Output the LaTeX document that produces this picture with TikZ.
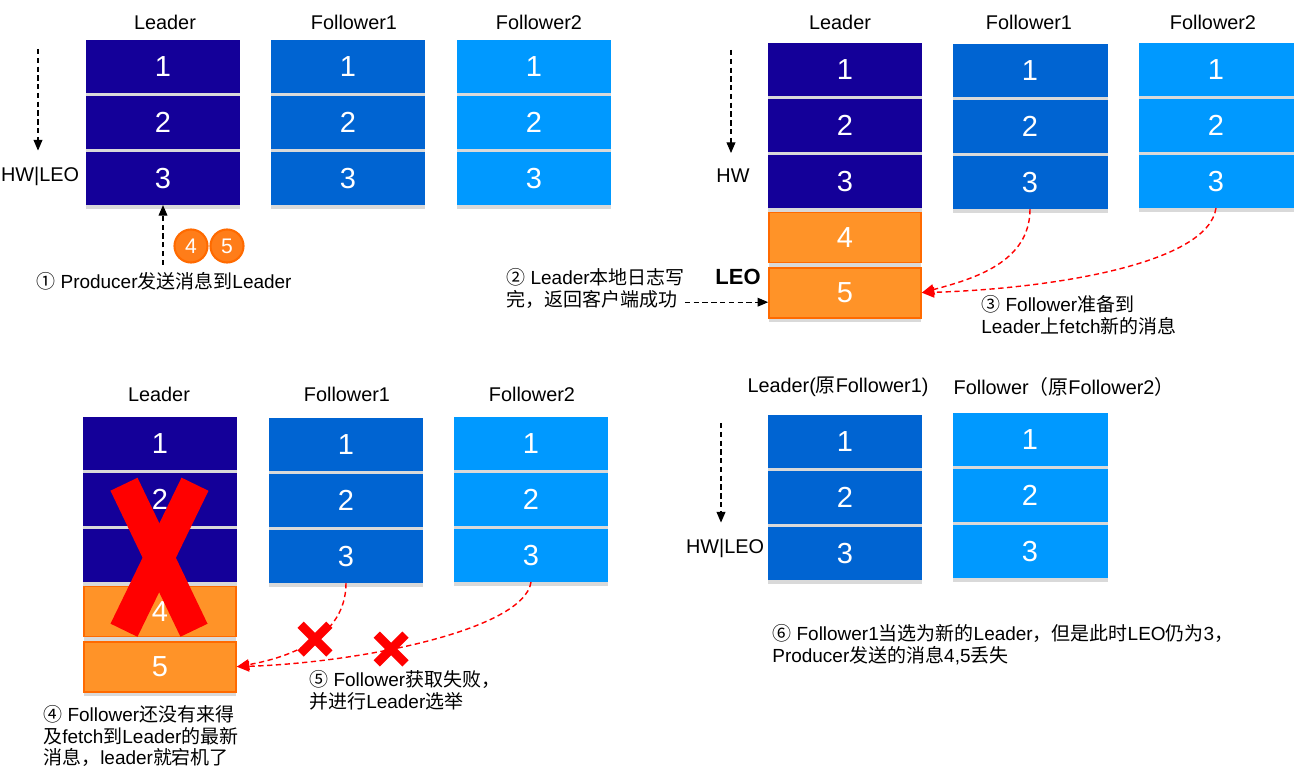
\documentclass[tikz,border=0pt]{standalone}
\usepackage{fontspec}
\setmainfont{Liberation Sans}
\newfontfamily\cjkfont{Noto Sans CJK SC}
\newcommand\zh[1]{{\cjkfont #1}}
\usepackage{tikz}
\usetikzlibrary{arrows.meta, positioning, shadows, shapes.misc}
\definecolor{ldrblue}{RGB}{20,0,153}
\definecolor{fonblue}{RGB}{0,100,210}
\definecolor{ftwblue}{RGB}{0,153,255}
\definecolor{msgorange}{RGB}{255,147,40}
\definecolor{msgedge}{RGB}{255,106,0}
\definecolor{ballorange}{RGB}{255,125,25}
\definecolor{xred}{RGB}{255,0,0}

\begin{document}
\begin{tikzpicture}[x=0.02cm, y=-0.02cm,
    node distance=0.04cm,
    every node/.style={font=\fontsize{10.8}{12.4}\selectfont},
    blk/.style={rectangle, minimum width=3.1cm, minimum height=1.06cm,
                inner sep=0pt, text=white, font=\fontsize{16.5}{18}\selectfont,
                drop shadow={shadow xshift=0pt, shadow yshift=-2.5pt, opacity=0.3}},
    ldr/.style={blk, fill=ldrblue},
    fone/.style={blk, fill=fonblue},
    ftwo/.style={blk, fill=ftwblue},
    msg/.style={blk, fill=msgorange, draw=msgedge, line width=1pt,
                minimum width=3.04cm, minimum height=1.0cm},
    hdr/.style={inner sep=0pt, font=\fontsize{11.3}{13}\selectfont},
    note/.style={inner sep=0pt, align=left, anchor=north west},
    ptr/.style={-{Triangle[length=6pt, width=5pt]}, dash pattern=on 3pt off 2pt, line width=0.6pt},
    fetch/.style={-{Triangle[length=7pt, width=6pt]}, xred, dash pattern=on 3pt off 2pt, line width=0.8pt},
    ball/.style={circle, fill=ballorange, draw=msgedge, line width=1.2pt, minimum size=0.66cm,
                 inner sep=0pt, text=white, font=\fontsize{12}{14}\selectfont},
    xmark/.style={cross out, draw=xred, solid, line width=5pt, minimum size=0.4cm, inner sep=0pt},
    bigx/.style={draw=xred, line width=0.6cm},
  ]
  \useasboundingbox (0,0) rectangle (1301,780);

  % Paso 1: Producer -> Leader
  \node[hdr] (ah1) at (165,22) {Leader};
  \node[hdr] (ah2) at (354,22) {Follower1};
  \node[hdr] (ah3) at (539,22) {Follower2};
  \node[ldr, anchor=north] (al1) at (163,40) {1};
  \node[ldr, below=of al1] (al2) {2};
  \node[ldr, below=of al2] (al3) {3};
  \node[fone, anchor=north] (af1) at (348,40) {1};
  \node[fone, below=of af1] (af2) {2};
  \node[fone, below=of af2] (af3) {3};
  \node[ftwo, anchor=north] (ag1) at (534,40) {1};
  \node[ftwo, below=of ag1] (ag2) {2};
  \node[ftwo, below=of ag2] (ag3) {3};
  \node[hdr] (ahw) at (40,176) {HW|LEO};
  \coordinate (as) at (38,49);
  \draw[ptr] (as) -- ([yshift=9pt]ahw.north -| as);
  \node[ball] (m4) at (191,246) {4};
  \node[ball] (m5) at (227,246) {5};
  \node[note] (t1) at (36,272) {\zh{①} Producer\zh{发送消息到}Leader};
  \draw[ptr] ([yshift=4pt]t1.north -| al3) -- (al3.south);

  % Paso 2 y 3: Leader escribe, Followers hacen fetch
  \node[hdr] (bh1) at (840,22) {Leader};
  \node[hdr] (bh2) at (1029,22) {Follower1};
  \node[hdr] (bh3) at (1213,22) {Follower2};
  \node[ldr, anchor=north] (bl1) at (845,43) {1};
  \node[ldr, below=of bl1] (bl2) {2};
  \node[ldr, below=of bl2] (bl3) {3};
  \node[msg, below=0.07cm of bl3] (bl4) {4};
  \node[msg, below=0.07cm of bl4] (bl5) {5};
  \node[fone, anchor=north] (bf1) at (1030,44) {1};
  \node[fone, below=of bf1] (bf2) {2};
  \node[fone, below=of bf2] (bf3) {3};
  \node[ftwo, anchor=north] (bg1) at (1216,43) {1};
  \node[ftwo, below=of bg1] (bg2) {2};
  \node[ftwo, below=of bg2] (bg3) {3};
  \node[hdr] (bhw) at (733,176) {HW};
  \coordinate (bs) at (731,50);
  \draw[ptr] (bs) -- ([yshift=9pt]bhw.north -| bs);
  \node[hdr, font=\fontsize{12.5}{14}\selectfont\bfseries] (bleo) at (738,277) {LEO};
  \node[note] (t2) at (506,268) {\zh{②} Leader\zh{本地日志写}\\\zh{完，返回客户端成功}};
  \draw[ptr] ([yshift=-0.19cm]bl5.west -| t2.east) -- ([yshift=-0.19cm]bl5.west);
  \draw[fetch] (bf3.south) to[out=-90, in=15] (bl5.east);
  \draw[fetch] (bg3.south) .. controls +(-8,56) and +(129,-4) .. (bl5.east);
  \node[note] (t3) at (981,295) {\zh{③} Follower\zh{准备到}\\Leader\zh{上}fetch\zh{新的消息}};

  % Paso 4 y 5: Leader cae
  \node[hdr] (ch1) at (159,394) {Leader};
  \node[hdr] (ch2) at (347,394) {Follower1};
  \node[hdr] (ch3) at (532,394) {Follower2};
  \node[ldr, anchor=north] (cl1) at (160,417) {1};
  \node[ldr, below=of cl1] (cl2) {2};
  \node[ldr, below=of cl2] (cl3) {3};
  \node[msg, below=0.07cm of cl3] (cl4) {4};
  \node[msg, below=0.07cm of cl4] (cl5) {5};
  \node[fone, anchor=north] (cf1) at (346,418) {1};
  \node[fone, below=of cf1] (cf2) {2};
  \node[fone, below=of cf2] (cf3) {3};
  \node[ftwo, anchor=north] (cg1) at (531,417) {1};
  \node[ftwo, below=of cg1] (cg2) {2};
  \node[ftwo, below=of cg2] (cg3) {3};
  \draw[bigx] ([shift={(-36,-71)}]cl3.center) -- ([shift={(34,75)}]cl3.center);
  \draw[bigx] ([shift={(35,-71)}]cl3.center) -- ([shift={(-36,75)}]cl3.center);
  \draw[fetch] (cf3.south) to[out=-90, in=10] node[xmark, pos=0.47] (cx1) {} (cl5.east);
  \draw[fetch] (cg3.south) .. controls +(-7,48) and +(122,-4) .. node[xmark, pos=0.6] (cx2) {} (cl5.east);
  \node[note] (t4) at (43,705) {\zh{④} Follower\zh{还没有来得}\\\zh{及}fetch\zh{到}Leader\zh{的最新}\\\zh{消息，}leader\zh{就宕机了}};
  \node[note] (t5) at (309,670) {\zh{⑤} Follower\zh{获取失败，}\\\zh{并进行}Leader\zh{选举}};

  % Paso 6: nuevo Leader
  \node[hdr] (dh1) at (838,387) {Leader(\zh{原}Follower1)};
  \node[hdr] (dh2) at (1064,387) {Follower\zh{（原}Follower2\zh{）}};
  \node[fone, anchor=north] (dl1) at (845,415) {1};
  \node[fone, below=of dl1] (dl2) {2};
  \node[fone, below=of dl2] (dl3) {3};
  \node[ftwo, anchor=north] (dg1) at (1030,413) {1};
  \node[ftwo, below=of dg1] (dg2) {2};
  \node[ftwo, below=of dg2] (dg3) {3};
  \node[hdr] (dhw) at (725,548) {HW|LEO};
  \coordinate (ds) at (721,423);
  \draw[ptr] (ds) -- ([yshift=9pt]dhw.north -| ds);
  \node[note] (t6) at (772,624) {\zh{⑥} Follower1\zh{当选为新的}Leader\zh{，但是此时}LEO\zh{仍为}3\zh{，}\\Producer\zh{发送的消息}4,5\zh{丢失}};

\end{tikzpicture}
\end{document}
